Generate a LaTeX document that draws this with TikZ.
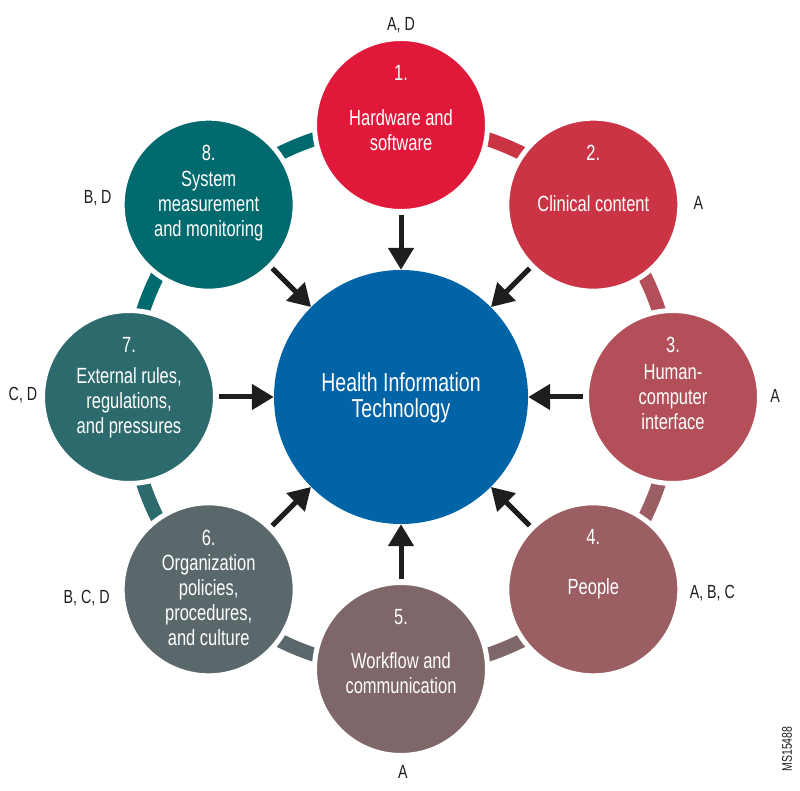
\documentclass[tikz,border=0pt]{standalone}
\usepackage{fontspec}
\setmainfont{Liberation Sans}[FakeStretch=0.75]
\usetikzlibrary{arrows.meta,backgrounds}

\definecolor{hitblue}{RGB}{0,100,167}
\definecolor{fone}{RGB}{224,25,59}
\definecolor{ftwo}{RGB}{203,52,68}
\definecolor{fthree}{RGB}{178,79,89}
\definecolor{ffour}{RGB}{154,94,99}
\definecolor{ffive}{RGB}{126,102,105}
\definecolor{fsix}{RGB}{90,104,107}
\definecolor{fseven}{RGB}{45,106,109}
\definecolor{feight}{RGB}{0,106,110}
\definecolor{inkdark}{RGB}{30,30,30}

\begin{document}
\begin{tikzpicture}[x=1pt, y=1pt,
  factor/.style={circle, fill=#1, draw=white, line width=5pt, minimum size=173pt, inner sep=0pt},
  band/.style={draw=#1, line width=14pt},
  arr/.style={draw=inkdark, line width=5pt, -{Triangle[length=22pt,width=25pt]}, shorten <=1pt},
  num/.style={text=white, anchor=north, font=\fontsize{22}{25}\selectfont},
  desc/.style={text=white, anchor=north, align=center, inner sep=0pt, font=\fontsize{22}{25}\selectfont},
  tag/.style={text=inkdark, font=\fontsize{19}{22}\selectfont}]

  \useasboundingbox (-401,-394) rectangle (399,397);

  \node[circle, fill=hitblue, minimum size=254pt, inner sep=0pt] (hit) at (0,0) {};
  \node[desc, font=\fontsize{26}{26}\selectfont] at ([yshift=25pt]hit.center) {Health Information\\Technology};

  \node[factor=fone] (hw) at (90:272) {};
  \node[factor=ftwo] (cc) at (45:272) {};
  \node[factor=fthree] (hci) at (0:272) {};
  \node[factor=ffour] (ppl) at (-45:272) {};
  \node[factor=ffive] (wf) at (-90:272) {};
  \node[factor=fsix] (org) at (-135:272) {};
  \node[factor=fseven] (ext) at (180:272) {};
  \node[factor=feight] (sys) at (135:272) {};

  \begin{scope}[on background layer]
    \draw[band=ftwo] (hw.center) arc[start angle=90, end angle=45, radius=272];
    \draw[band=fthree] (cc.center) arc[start angle=45, end angle=0, radius=272];
    \draw[band=ffour] (hci.center) arc[start angle=0, end angle=-45, radius=272];
    \draw[band=ffive] (ppl.center) arc[start angle=-45, end angle=-90, radius=272];
    \draw[band=fsix] (wf.center) arc[start angle=-90, end angle=-135, radius=272];
    \draw[band=fseven] (org.center) arc[start angle=-135, end angle=-180, radius=272];
    \draw[band=feight] (ext.center) arc[start angle=180, end angle=135, radius=272];
    \draw[band=feight] (sys.center) arc[start angle=135, end angle=90, radius=272];
  \end{scope}

  \node[num] at ([yshift=63pt]hw.center) {1.};
  \node[desc] at ([yshift=16pt]hw.center) {Hardware and\\software};

  \node[num] at ([yshift=63pt]cc.center) {2.};
  \node[desc] at ([yshift=9pt]cc.center) {Clinical content};

  \node[num] at ([yshift=63pt]hci.center) {3.};
  \node[desc] at ([yshift=33pt]hci.center) {Human-\\computer\\interface};

  \node[num] at ([yshift=63pt]ppl.center) {4.};
  \node[desc] at ([yshift=11pt]ppl.center) {People};

  \node[num] at ([yshift=63pt]wf.center) {5.};
  \node[desc] at ([yshift=17pt]wf.center) {Workflow and\\communication};

  \node[num] at ([yshift=63pt]org.center) {6.};
  \node[desc] at ([yshift=35pt]org.center) {Organization\\policies,\\procedures,\\and culture};

  \node[num] at ([yshift=63pt]ext.center) {7.};
  \node[desc] at ([yshift=30pt]ext.center) {External rules,\\regulations,\\and pressures};

  \node[num] at ([yshift=63pt]sys.center) {8.};
  \node[desc] at ([yshift=34pt]sys.center) {System\\measurement\\and monitoring};

  \draw[arr] (hw) -- (hit);
  \draw[arr] (cc) -- (hit);
  \draw[arr] (hci) -- (hit);
  \draw[arr] (ppl) -- (hit);
  \draw[arr] (wf) -- (hit);
  \draw[arr] (org) -- (hit);
  \draw[arr] (ext) -- (hit);
  \draw[arr] (sys) -- (hit);

  \node[tag] at ([yshift=11pt]hw.north) {A, D};
  \node[tag] at ([shift={(105,2)}]cc.center) {A};
  \node[tag] at ([shift={(102,1)}]hci.center) {A};
  \node[tag] at ([shift={(119,-4)}]ppl.center) {A, B, C};
  \node[tag] at ([shift={(2,-103)}]wf.center) {A};
  \node[tag] at ([shift={(-122,-9)}]org.center) {B, C, D};
  \node[tag] at ([shift={(-106,2)}]ext.center) {C, D};
  \node[tag] at ([shift={(-111,6)}]sys.center) {B, D};

  \node[rotate=90, text=inkdark, font=\fontsize{14}{14}\selectfont] (code) at (386,-352) {MS15488};
\end{tikzpicture}
\end{document}
